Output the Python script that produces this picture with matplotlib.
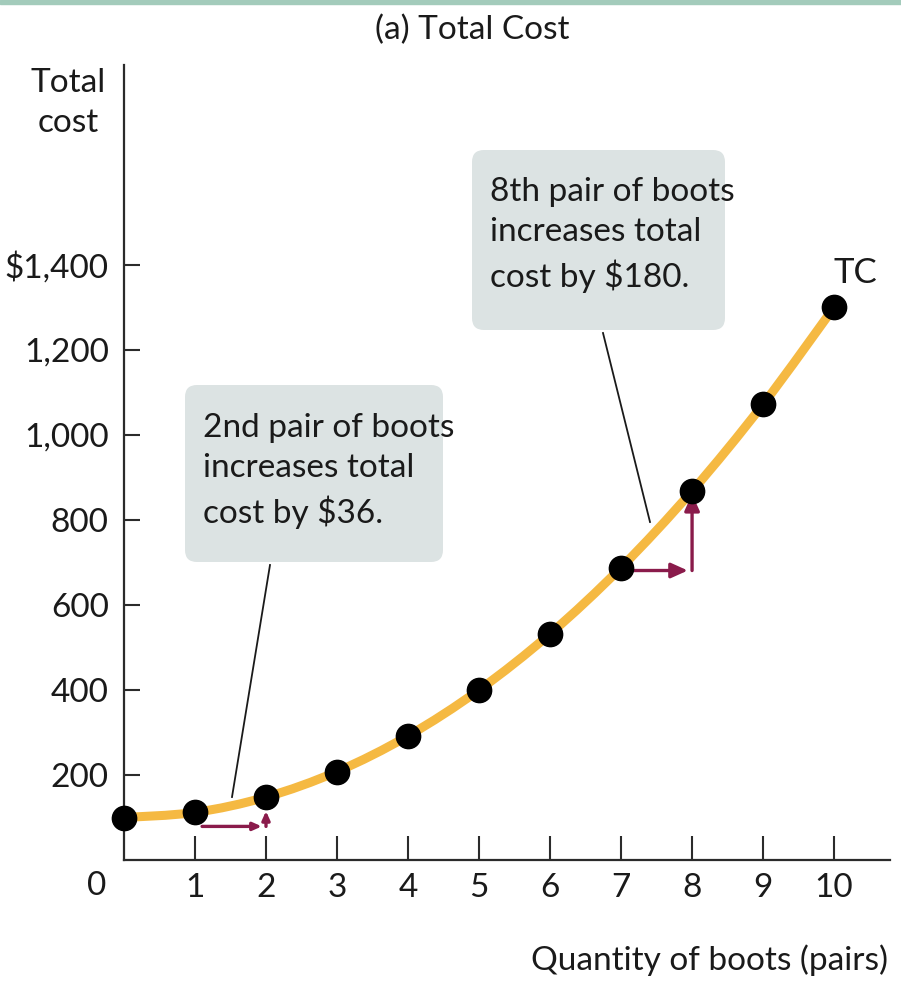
import matplotlib
matplotlib.use("Agg")
import matplotlib.pyplot as plt
import numpy as np
from matplotlib.path import Path
from matplotlib.patches import PathPatch, FancyBboxPatch, Rectangle
import matplotlib.transforms as mtransforms

plt.rcParams['font.family'] = ['Lato', 'DejaVu Sans']

# Total cost of producing boots
quantity = [0, 1, 2, 3, 4, 5, 6, 7, 8, 9, 10]
total_cost = [100, 112, 148, 208, 292, 400, 532, 688, 868, 1072, 1300]

ytick_values = [200, 400, 600, 800, 1000, 1200, 1400]
ytick_labels = ["200", "400", "600", "800", "1,000", "1,200", "$1,400"]
xtick_values = [1, 2, 3, 4, 5, 6, 7, 8, 9, 10]
xtick_labels = [str(v) for v in xtick_values]

curve_color = "#F5B942"
arrow_color = "#8A1B4B"
box_color = "#DCE3E3"
axis_color = "#2b2b2b"
text_color = "#1a1a1a"
FS = 24

fig = plt.figure(figsize=(9.01, 9.83), dpi=100)
fig.patch.set_facecolor("white")
# thin green band along the top edge
fig.patches.append(Rectangle((0, 0.996), 1, 0.004, transform=fig.transFigure,
                             color="#A3CBBB", zorder=0))

ax = fig.add_axes([0.1376, 0.1251, 0.8504, 0.8088])
ax.set_xlim(0, 10.79)
ax.set_ylim(0, 1870)

for side in ("top", "right"):
    ax.spines[side].set_visible(False)
for side in ("left", "bottom"):
    ax.spines[side].set_color(axis_color)
    ax.spines[side].set_linewidth(1.6)

ax.set_yticks(ytick_values)
ax.set_yticklabels(ytick_labels)
ax.set_xticks(xtick_values)
ax.set_xticklabels(xtick_labels)
ax.tick_params(axis="y", direction="in", length=11.5, width=1.5, color=axis_color,
               pad=11, labelsize=FS, labelcolor=text_color)
ax.tick_params(axis="x", direction="in", length=17, width=1.5, color=axis_color,
               pad=9, labelsize=FS, labelcolor=text_color)

# origin label
ax.annotate("0", xy=(0, 0), xytext=(-27, -26), textcoords="offset pixels",
            ha="center", va="center", fontsize=FS, color=text_color,
            annotation_clip=False)

# smooth TC curve (Catmull-Rom converted to cubic Bezier segments)
pts = np.column_stack([quantity, total_cost]).astype(float)
verts = [tuple(pts[0])]
codes = [Path.MOVETO]
n = len(pts)
for i in range(n - 1):
    p0 = pts[i - 1] if i > 0 else pts[i]
    p1 = pts[i]
    p2 = pts[i + 1]
    p3 = pts[i + 2] if i + 2 < n else pts[i + 1]
    c1 = p1 + (p2 - p0) / 6.0
    c2 = p2 - (p3 - p1) / 6.0
    verts += [tuple(c1), tuple(c2), tuple(p2)]
    codes += [Path.CURVE4] * 3
ax.add_patch(PathPatch(Path(verts, codes), facecolor="none", edgecolor=curve_color,
                       lw=6.5, capstyle="round", zorder=2))

ax.plot(quantity, total_cost, "o", color="black", markersize=17.5, zorder=4,
        clip_on=False)

ax.text(10.3, 1380, "TC", fontsize=FS + 1, ha="center", va="center", color=text_color)

# marginal-cost step arrows
def step_arrows(q0, q1, dy_px, head):
    off = mtransforms.offset_copy(ax.transData, fig=fig, x=0, y=dy_px, units="dots")
    y0 = total_cost[q0]
    y1 = total_cost[q1]
    style = f"-|>,head_length={head},head_width={head*0.45}"
    ax.annotate("", xy=(q1 - 0.06, y0), xytext=(q0 + 0.1, y0),
                xycoords=off, textcoords=off,
                arrowprops=dict(arrowstyle=style, color=arrow_color, lw=2.4,
                                shrinkA=0, shrinkB=0),
                zorder=3)
    ax.annotate("", xy=(q1, y1), xytext=(q1, y0),
                xycoords=off, textcoords=off,
                arrowprops=dict(arrowstyle=style, color=arrow_color, lw=2.4,
                                shrinkA=0, shrinkB=0),
                zorder=3)

step_arrows(1, 2, -14, 0.5)
step_arrows(7, 8, -3, 1.0)

H = 983

# callout boxes with leader lines
def callout(x0, y0, w, h, lines, text_mid_y, line_start, line_end):
    box = FancyBboxPatch((x0, y0), w, h, boxstyle="round,pad=0,rounding_size=12",
                         transform=None, facecolor=box_color, edgecolor="none", zorder=1)
    fig.patches.append(box)
    fig.text(x0 + 18, H - text_mid_y, lines, transform=None, fontsize=FS,
             va="center", ha="left", color=text_color, linespacing=1.45, zorder=5)
    fig.lines.append(plt.Line2D([line_start[0], line_end[0]],
                                [line_start[1], line_end[1]],
                                transform=None, color=text_color, lw=1.3, zorder=5))

callout(185, H - 562, 258, 177, "2nd pair of boots\nincreases total\ncost by $36.", 471,
        (270, H - 565), (232, H - 797))
callout(472, H - 330, 253, 180, "8th pair of boots\nincreases total\ncost by $180.", 235,
        (603, H - 333), (650, H - 522))

fig.text(472 / 901, 1 - 30 / 983, "(a) Total Cost", ha="center", va="center",
         fontsize=FS, color=text_color)
fig.text(68 / 901, 1 - 103 / 983, "Total\ncost", ha="center", va="center",
         fontsize=FS, color=text_color, linespacing=1.45)
fig.text(888 / 901, 1 - 960 / 983, "Quantity of boots (pairs)", ha="right",
         va="center", fontsize=FS, color=text_color)

fig.savefig("out.png", dpi=100, facecolor="white")
